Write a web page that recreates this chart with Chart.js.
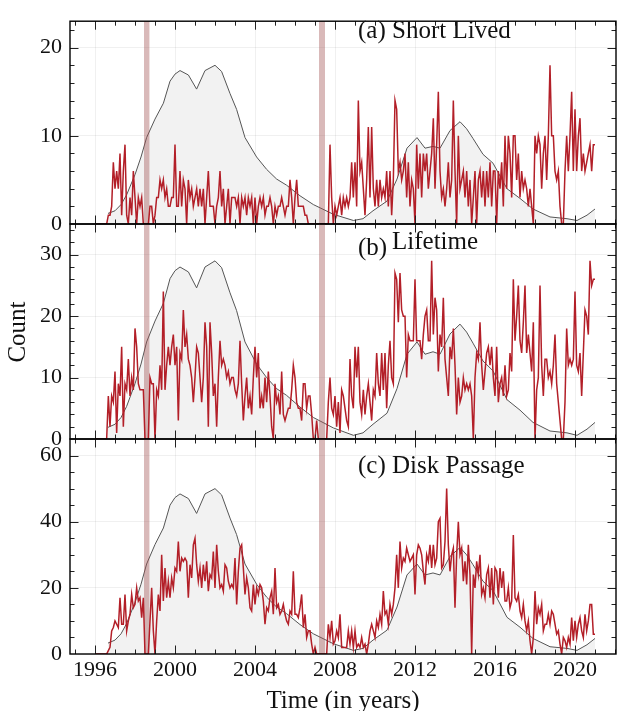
<!DOCTYPE html>
<html lang="en">
<head>
<meta charset="UTF-8">
<title>Counts over time</title>
<style>
  html, body { margin: 0; padding: 0; background: #fff; }
  #wrap { position: relative; width: 618px; height: 711px; }
  #wrap canvas { position: absolute; left: 0; top: 0; }
</style>
<script src="https://cdn.jsdelivr.net/npm/chart.js@4.4.1/dist/chart.umd.min.js"></script>
</head>
<body>
<div id="wrap">
  <canvas id="panelA" width="618" height="711"></canvas>
  <canvas id="panelB" width="618" height="711"></canvas>
  <canvas id="panelC" width="618" height="711"></canvas>
</div>
<script>
// monthly counts, one row per year, Jan 1996 .. Jan 2021
const startYear = 1996;
const shortLived = [
  0,0,0,0,0,0,0,0,1,1,2,7,
  4,6,4,8,1,6,9,1,0,3,1,6,
  3,0,3,2,3,0,0,0,0,2,2,0,
  1,3,3,5,4,5,3,4,2,2,3,3,
  9,2,2,6,2,5,4,0,5,3,4,2,
  3,4,2,4,2,4,0,3,6,2,2,2,
  0,2,3,6,2,4,0,2,4,0,3,3,
  3,2,3,0,3,2,3,1,3,2,3,0,
  3,0,2,3,2,3,1,2,2,3,2,0,
  2,1,2,2,3,2,1,2,2,5,3,0,
  3,5,2,2,2,2,1,1,0,0,0,0,
  0,0,0,0,0,0,0,0,0,9,3,0,
  2,1,2,3,1,3,2,3,2,3,7,3,
  7,2,14,6,7,4,1,5,11,3,11,4,
  2,5,2,5,3,4,3,6,2,6,1,5,
  14,13,6,7,5,6,8,3,7,2,5,4,
  0,9,4,8,3,8,6,8,4,6,8,12,
  4,9,15,6,3,4,2,4,7,3,5,14,
  6,0,10,4,5,6,3,6,2,5,0,3,
  6,0,5,6,3,6,2,6,3,7,2,6,
  6,0,6,4,7,2,10,4,10,8,3,10,
  10,5,8,3,6,4,5,4,2,4,2,0,
  10,8,10,9,4,8,10,5,10,18,10,10,
  6,5,6,2,0,0,6,10,6,10,15,6,
  13,6,10,12,6,8,6,7,8,9,6,9,
  9
];
const lifetime = [
  0,0,0,0,0,0,0,0,7,2,7,6,
  11,1,9,7,15,2,9,8,13,7,10,8,
  18,15,9,8,8,8,0,0,0,10,9,9,
  0,8,7,12,8,24,8,12,15,12,15,17,
  12,15,3,14,13,21,15,17,13,12,10,6,
  10,15,14,10,6,10,19,15,2,19,14,7,
  9,2,10,16,12,13,12,10,11,9,10,10,
  8,7,9,16,9,3,7,10,5,7,4,10,
  15,10,14,5,7,5,10,6,11,7,2,0,
  9,6,7,4,11,4,3,4,5,5,8,12,
  10,6,5,5,3,9,9,5,7,7,4,0,
  0,3,0,0,0,0,0,0,6,10,5,4,
  7,2,6,1,8,7,5,3,2,13,7,5,
  15,10,15,6,4,8,4,7,9,6,3,8,
  7,14,9,7,14,8,14,5,12,16,10,9,
  27,26,19,27,21,20,20,10,17,16,16,16,
  26,16,16,16,13,17,20,21,16,16,29,17,
  23,21,11,17,15,23,13,10,7,15,13,18,
  12,4,10,6,7,10,8,9,8,9,7,0,
  10,14,13,19,12,8,11,14,15,12,15,10,
  7,15,6,9,10,7,12,7,8,14,11,26,
  16,20,25,16,14,19,25,14,17,14,11,19,
  0,8,10,25,12,7,13,13,10,11,9,12,
  17,9,6,3,0,0,6,18,12,13,12,13,
  24,12,11,14,7,14,21,20,17,29,25,26,
  26
];
const diskPassage = [
  0,0,0,0,0,0,0,0,1,2,7,8,
  10,9,8,17,9,9,18,7,10,12,18,14,
  15,20,16,17,11,17,0,0,0,10,20,7,
  0,10,18,13,30,16,26,17,22,17,23,20,
  26,25,34,25,29,28,29,28,17,27,23,33,
  35,27,22,26,20,27,22,28,19,24,23,31,
  20,33,25,20,21,19,27,26,22,20,21,20,
  29,15,25,32,33,26,18,23,20,14,13,21,
  15,20,18,21,20,16,9,14,13,17,19,12,
  26,14,15,12,13,15,12,10,9,13,12,25,
  12,12,11,14,18,8,12,5,7,7,3,0,
  2,0,0,0,0,0,0,0,9,5,10,3,
  4,7,5,12,2,2,2,2,7,3,7,2,
  7,2,3,2,5,2,3,0,3,7,9,7,
  5,10,8,12,9,19,12,13,9,15,12,15,
  20,30,20,34,26,29,28,32,30,28,29,30,
  18,30,33,32,30,25,21,30,28,33,26,33,
  27,29,40,41,26,27,34,50,33,25,30,32,
  14,30,40,30,32,22,28,21,33,24,0,24,
  20,28,24,30,18,20,17,24,26,17,26,15,
  26,25,17,26,20,25,16,16,20,14,16,36,
  17,16,18,13,11,15,10,7,10,4,0,5,
  19,9,14,12,15,7,9,9,12,9,13,12,
  9,6,7,3,0,5,4,2,5,3,11,4,
  10,5,9,11,7,5,12,7,10,15,15,6,
  6
];

// smoothed background curve (grey), read separately in each panel
const refYears = [1996.65, 1997.0, 1997.3, 1997.58, 1998.0, 1998.3, 1998.58, 1999.0, 1999.42, 1999.75,
  2000.0, 2000.25, 2000.67, 2001.08, 2001.5, 2002.0, 2002.33, 2002.75, 2003.08, 2003.5,
  2004.08, 2004.58, 2005.08, 2005.58, 2006.25, 2006.92, 2007.92, 2008.92, 2009.4, 2009.9,
  2010.6, 2011.1, 2011.6, 2012.1, 2012.5, 2012.9, 2013.25, 2013.75, 2014.25, 2014.58,
  2014.9, 2015.4, 2015.9, 2016.6, 2017.25, 2017.9, 2018.75, 2019.6, 2020.1, 2020.6, 2021.0];
const refShort = [1.2, 1.5, 2.2, 3.3, 5.6, 7.6, 9.8, 11.9, 13.7, 16.2,
  17.0, 17.4, 16.9, 15.3, 17.4, 18.0, 17.3, 14.8, 13.0, 9.8,
  7.6, 6.2, 5.1, 4.4, 3.2, 2.2, 1.1, 0.4, 0.6, 1.5,
  2.6, 5.1, 8.6, 9.8, 8.6, 8.8, 8.6, 10.6, 11.6, 10.8,
  9.7, 7.9, 6.9, 4.0, 2.9, 1.7, 0.8, 0.6, 0.4, 1.0, 1.7];
const refLife = [1.9, 2.4, 3.5, 5.3, 9.0, 12.2, 15.8, 19.2, 22.1, 26.1,
  27.4, 28.0, 27.2, 24.6, 28.0, 29.0, 27.9, 23.8, 20.9, 15.8,
  12.2, 10.0, 8.2, 7.1, 5.2, 3.5, 1.8, 0.6, 1.0, 2.4,
  4.2, 8.2, 13.8, 15.8, 13.8, 14.2, 13.8, 17.1, 18.7, 17.4,
  15.6, 12.7, 11.1, 6.4, 4.7, 2.7, 1.3, 1.0, 0.6, 1.6, 2.7];
const refDisk = [3.3, 4.2, 6.1, 9.2, 15.6, 21.1, 27.2, 33.1, 38.1, 45.0,
  47.3, 48.4, 47.0, 42.5, 48.4, 50.0, 48.1, 41.1, 36.1, 27.2,
  21.1, 17.2, 14.2, 12.2, 8.9, 6.1, 3.1, 1.1, 1.7, 4.2,
  7.2, 14.2, 23.9, 27.2, 23.9, 24.5, 23.9, 29.5, 32.2, 30.0,
  27.0, 22.0, 19.2, 11.1, 8.1, 4.7, 2.2, 1.7, 1.1, 2.8, 4.7];

const xTickYears = [1996, 2000, 2004, 2008, 2012, 2016, 2020];
const bandSpans = [[1998.45, 1998.72], [2007.2, 2007.5]];

const X_MIN = 1994.75, X_MAX = 2022.05;
const W = 618, H = 711;
const SERIF = "'Liberation Serif', 'Times New Roman', serif";
const RED = '#b31f28';
const GRID = 'rgba(0,0,0,0.06)';
const BAND = 'rgba(160,80,80,0.4)';

const panels = [
  { id: 'panelA', counts: shortLived, ref: refShort, yMax: 23, yMajor: 10, yMinor: 2, top: 10, bottom: 224,
    texts: [['(a) Short Lived', 358, 38]] },
  { id: 'panelB', counts: lifetime, ref: refLife, yMax: 35, yMajor: 10, yMinor: 2, top: 224, bottom: 439,
    texts: [['(b)', 358, 255], ['Lifetime', 392, 249]], yTitle: 'Count' },
  { id: 'panelC', counts: diskPassage, ref: refDisk, yMax: 65, yMajor: 20, yMinor: 5, top: 439, bottom: 654,
    texts: [['(c) Disk Passage', 358, 473]], xTitle: 'Time (in years)', showX: true }
];

// bands under the red line, then inward ticks, frame and text on top
function makeDeco(p) {
  return {
    id: 'deco_' + p.id,
    beforeDatasetDraw(chart, args) {
      if (args.index !== 0) return;
      const { ctx, chartArea: a, scales: { x } } = chart;
      ctx.save();
      ctx.fillStyle = BAND;
      bandSpans.forEach(([s, e]) => {
        const x0 = x.getPixelForValue(s), x1 = x.getPixelForValue(e);
        ctx.fillRect(x0, a.top, x1 - x0, a.bottom - a.top);
      });
      ctx.restore();
    },
    afterDraw(chart) {
      const { ctx, chartArea: a, scales: { x, y } } = chart;
      ctx.save();
      ctx.strokeStyle = '#222';
      ctx.lineWidth = 1;
      ctx.beginPath();
      for (let yr = 1995; yr <= 2022; yr++) {
        const px = Math.round(x.getPixelForValue(yr)) + 0.5;
        const len = yr % 4 === 0 ? 8.5 : 4.5;
        ctx.moveTo(px, a.top); ctx.lineTo(px, a.top + len);
        ctx.moveTo(px, a.bottom); ctx.lineTo(px, a.bottom - len);
      }
      for (let v = p.yMinor; v < p.yMax; v += p.yMinor) {
        const py = Math.round(y.getPixelForValue(v)) + 0.5;
        const len = v % p.yMajor === 0 ? 8.5 : 4.5;
        ctx.moveTo(a.left, py); ctx.lineTo(a.left + len, py);
        ctx.moveTo(a.right, py); ctx.lineTo(a.right - len, py);
      }
      ctx.stroke();
      ctx.strokeStyle = '#000';
      ctx.lineWidth = 1.4;
      ctx.strokeRect(a.left, a.top, a.right - a.left, a.bottom - a.top);

      ctx.fillStyle = '#111';
      ctx.font = '25px ' + SERIF;
      ctx.textBaseline = 'alphabetic';
      ctx.textAlign = 'left';
      p.texts.forEach(([t, tx, ty]) => ctx.fillText(t, tx, ty));
      if (p.xTitle) {
        ctx.textAlign = 'center';
        ctx.fillText(p.xTitle, (a.left + a.right) / 2, 708);
      }
      if (p.yTitle) {
        ctx.translate(25, 332);
        ctx.rotate(-Math.PI / 2);
        ctx.textAlign = 'center';
        ctx.fillText(p.yTitle, 0, 0);
      }
      ctx.restore();
    }
  };
}

const tickFont = { family: SERIF, size: 22, lineHeight: 1.2 };

panels.forEach(p => {
  new Chart(document.getElementById(p.id), {
    type: 'line',
    data: {
      datasets: [
        {
          data: p.counts.map((v, i) => ({ x: startYear + i / 12, y: v })),
          borderColor: RED, borderWidth: 1.5, pointRadius: 0, fill: false, tension: 0
        },
        {
          data: refYears.map((yr, i) => ({ x: yr, y: p.ref[i] })),
          borderColor: '#555555', borderWidth: 1, backgroundColor: '#f2f2f2',
          fill: 'origin', pointRadius: 0, tension: 0
        }
      ]
    },
    options: {
      responsive: false,
      animation: false,
      devicePixelRatio: 1,
      layout: { padding: { left: 0, right: W - 616, top: p.top, bottom: p.showX ? 0 : H - p.bottom } },
      plugins: { legend: { display: false }, tooltip: { enabled: false } },
      scales: {
        x: {
          type: 'linear', min: X_MIN, max: X_MAX,
          afterBuildTicks: s => { s.ticks = xTickYears.map(v => ({ value: v })); },
          afterFit: s => { s.height = p.showX ? H - p.bottom : 0; },
          grid: { color: GRID, drawTicks: false },
          border: { display: false },
          ticks: {
            display: !!p.showX, padding: 3, color: '#111', font: tickFont,
            maxRotation: 0, autoSkip: false, callback: v => String(v)
          }
        },
        y: {
          min: 0, max: p.yMax,
          afterFit: s => { s.width = 70; },
          grid: { color: GRID, drawTicks: false },
          border: { display: false },
          ticks: { stepSize: p.yMajor, includeBounds: false, padding: 8, color: '#111', font: tickFont }
        }
      }
    },
    plugins: [makeDeco(p)]
  });
});
</script>
</body>
</html>
